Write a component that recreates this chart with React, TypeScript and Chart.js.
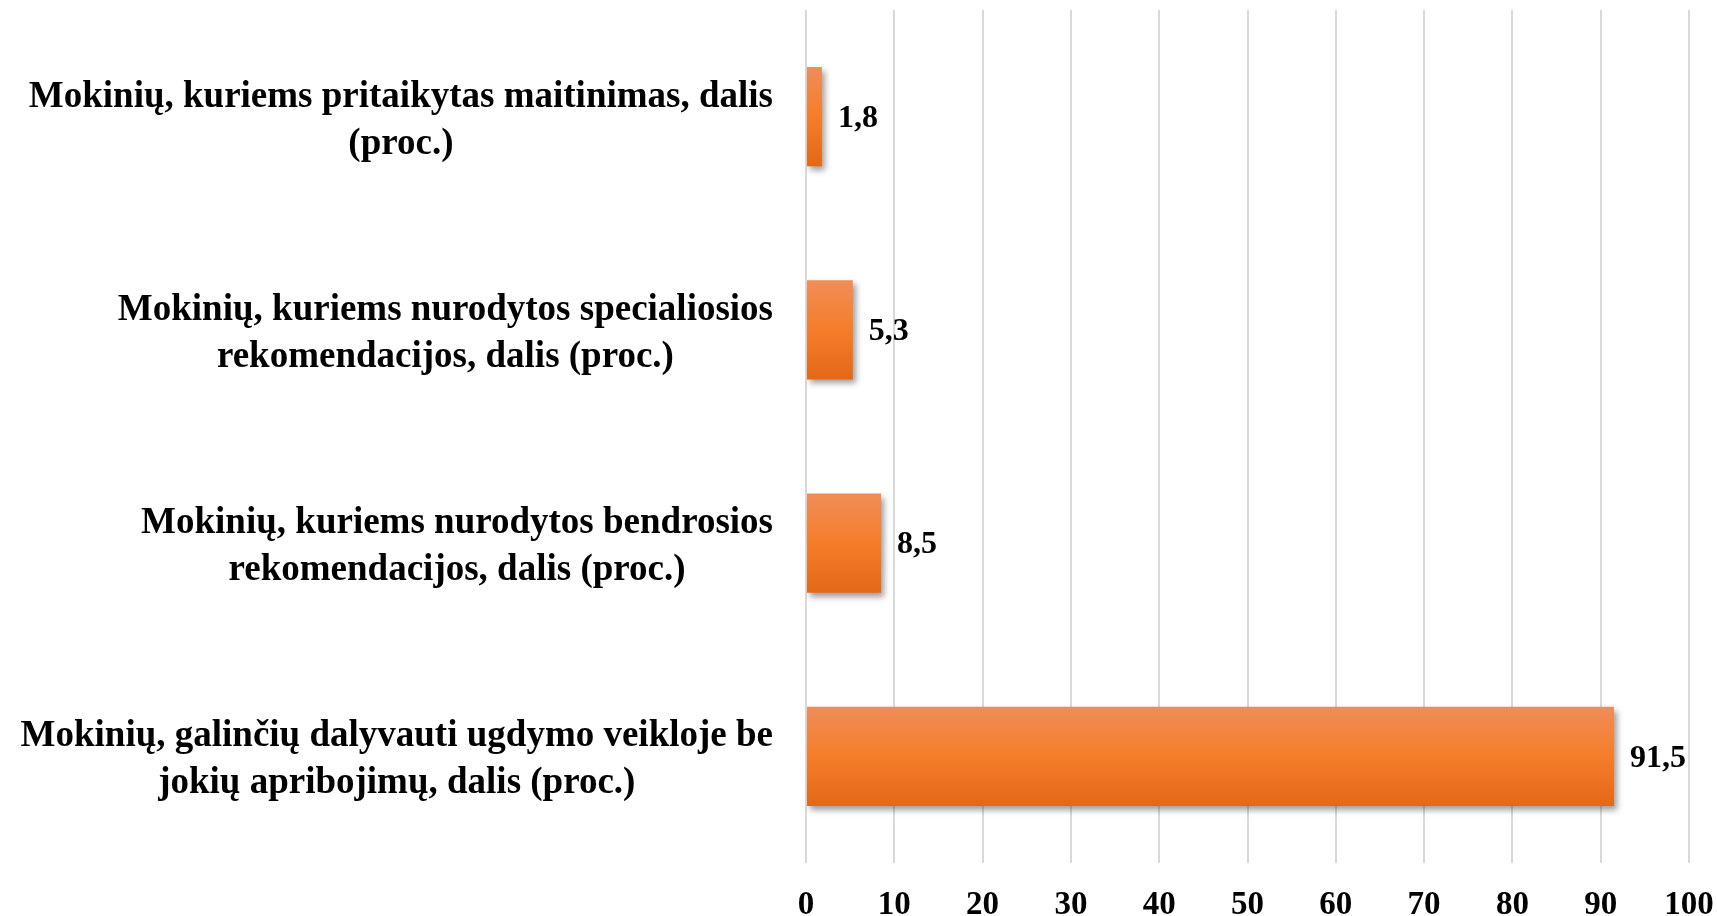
import React, { useEffect, useRef } from "react";
import { Chart, registerables } from "chart.js";

Chart.register(...registerables);

const categories: string[][] = [
  ["Mokinių, kuriems pritaikytas maitinimas, dalis", "(proc.)"],
  ["Mokinių, kuriems nurodytos specialiosios", "rekomendacijos, dalis (proc.)"],
  ["Mokinių, kuriems nurodytos bendrosios", "rekomendacijos, dalis (proc.)"],
  ["Mokinių, galinčių dalyvauti ugdymo veikloje be", "jokių apribojimų, dalis (proc.)"],
];
const values: number[] = [1.8, 5.3, 8.5, 91.5];
const xMin = 0;
const xMax = 100;
const xStep = 10;

const FONT_FAMILY = "'Liberation Serif', 'Times New Roman', serif";
const BAR_PCT = 0.465;

const labelsPlugin = {
  id: "customLabels",
  afterDraw(chart: any) {
    const ctx = chart.ctx as CanvasRenderingContext2D;
    const area = chart.chartArea;
    const yScale = chart.scales.y;
    ctx.save();
    ctx.font = `bold 37px ${FONT_FAMILY}`;
    ctx.fillStyle = "#000";
    ctx.textBaseline = "middle";
    ctx.textAlign = "center";
    const lineH = 47;
    const rightEdge = area.left - 33;
    categories.forEach((lines, i) => {
      const cy = yScale.getPixelForValue(i);
      const widest = Math.max(...lines.map((l) => ctx.measureText(l).width));
      const cx = rightEdge - widest / 2;
      const startY = cy - ((lines.length - 1) * lineH) / 2 + 4;
      lines.forEach((l, j) => ctx.fillText(l, cx, startY + j * lineH));
    });
    // value labels
    ctx.font = `bold 32px ${FONT_FAMILY}`;
    const meta = chart.getDatasetMeta(0);
    ctx.textAlign = "left";
    meta.data.forEach((el: any, i: number) => {
      const txt = String(values[i]).replace(".", ",");
      ctx.fillText(txt, el.x + 16, el.y + 2);
    });
    ctx.restore();
  },
};

const shadowPlugin = {
  id: "barShadow",
  beforeDatasetDraw(chart: any) {
    const ctx = chart.ctx as CanvasRenderingContext2D;
    ctx.save();
    ctx.shadowColor = "rgba(0,0,0,0.38)";
    ctx.shadowBlur = 6;
    ctx.shadowOffsetX = 3;
    ctx.shadowOffsetY = 4;
  },
  afterDatasetDraw(chart: any) {
    chart.ctx.restore();
  },
};

export default function App() {
  const canvasRef = useRef<HTMLCanvasElement | null>(null);

  useEffect(() => {
    document.body.style.margin = "0";
    const canvas = canvasRef.current;
    if (!canvas) return;
    const chart = new Chart(canvas, {
      type: "bar",
      data: {
        labels: categories.map((c) => c.join(" ")),
        datasets: [
          {
            data: values,
            backgroundColor: (c: any) => {
              const ch = c.chart;
              const area = ch.chartArea;
              const ys = ch.scales?.y;
              if (!area || !ys || c.dataIndex === undefined) return "#F47B2A";
              const cy = ys.getPixelForValue(c.dataIndex);
              const half = ((area.bottom - area.top) / categories.length) * BAR_PCT / 2;
              const g = ch.ctx.createLinearGradient(0, cy - half, 0, cy + half);
              g.addColorStop(0, "#F08D58");
              g.addColorStop(0.5, "#F57D2A");
              g.addColorStop(1, "#E36817");
              return g;
            },
            borderWidth: 0,
            categoryPercentage: 1,
            barPercentage: BAR_PCT,
          },
        ],
      },
      options: {
        indexAxis: "y",
        animation: false,
        responsive: false,
        events: [],
        layout: { padding: { top: 10, right: 28, left: 0, bottom: 0 } },
        plugins: {
          legend: { display: false },
          tooltip: { enabled: false },
        },
        scales: {
          x: {
            min: xMin,
            max: xMax,
            grid: { color: "#D9D9D9", lineWidth: 2, drawTicks: false },
            border: { display: false },
            ticks: {
              stepSize: xStep,
              padding: 23,
              color: "#000",
              font: { family: FONT_FAMILY, size: 33, weight: "bold" },
            },
            afterFit: (s: any) => {
              s.height = 53;
              s.paddingLeft = 0;
              s.paddingRight = 0;
            },
          },
          y: {
            grid: { display: false },
            border: { display: false },
            ticks: { display: false },
            afterFit: (s: any) => {
              s.width = 806;
              s.paddingTop = 0;
              s.paddingBottom = 0;
            },
          },
        },
      },
      plugins: [shadowPlugin, labelsPlugin],
    } as any);
    return () => chart.destroy();
  }, []);

  return (
    <div style={{ width: 1717, height: 916 }}>
      <canvas ref={canvasRef} width={1717} height={916} style={{ display: "block" }} />
    </div>
  );
}
